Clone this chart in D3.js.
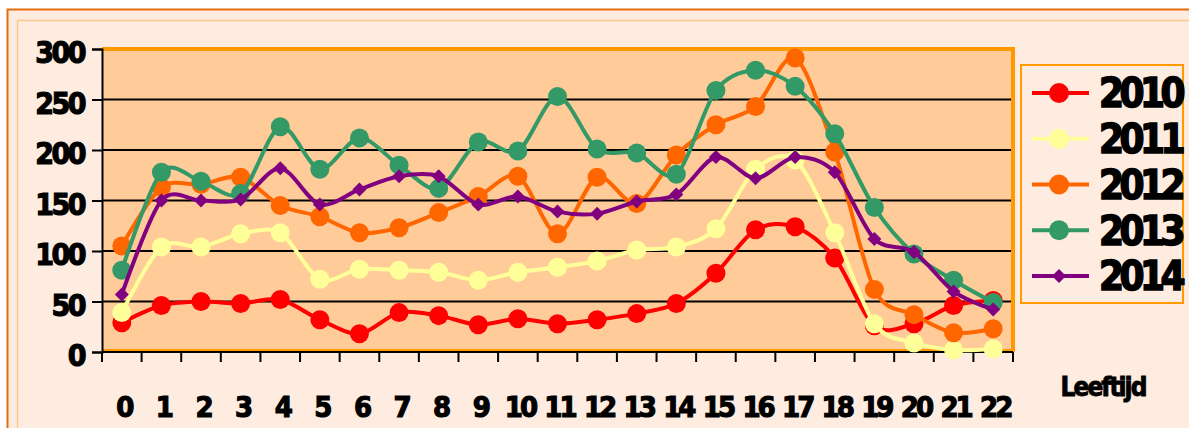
<!DOCTYPE html>
<html lang="nl">
<head>
  <meta charset="utf-8" />
  <title>Leeftijd per jaar</title>
  <script src="https://cdn.jsdelivr.net/npm/d3@7"></script>
  <style>
    body {
      margin: 0;
      background: #ffffff;
    }
    svg text {
      font-family: "DejaVu Sans Condensed", "DejaVu Sans", sans-serif;
      font-weight: bold;
      fill: #000;
      stroke: #000;
      stroke-width: 1.1px;
    }
  </style>
</head>
<body>
  <div id="chart"></div>

  <script type="text/javascript">

    const w = 1189;
    const h = 428;

    // categories (age)
    const ages = d3.range(0, 23).map(String);
    const years = ["2010", "2011", "2012", "2013", "2014"];
    const yTicks = [0, 50, 100, 150, 200, 250, 300];

    // values
    const v2010 = [29, 46, 50, 48, 52, 32, 18, 39, 36, 27, 33, 28, 32, 38, 48, 78, 121, 124, 93, 26, 28, 46, 51];
    const v2011 = [39, 104, 104, 117, 118, 72, 82, 81, 79, 71, 79, 84, 90, 101, 104, 122, 181, 190, 118, 28, 9, 2, 3];
    const v2012 = [105, 163, 166, 173, 145, 134, 118, 123, 138, 154, 174, 117, 173, 147, 195, 225, 243, 291, 198, 62, 37, 19, 23];
    const v2013 = [81, 178, 169, 157, 223, 181, 212, 185, 162, 208, 199, 253, 201, 197, 176, 259, 279, 263, 216, 143, 97, 71, 49];
    const v2014 = [57, 150, 150, 151, 182, 146, 161, 174, 174, 146, 154, 139, 137, 149, 156, 193, 172, 193, 178, 112, 99, 60, 42];

    const seriesValues = [v2010, v2011, v2012, v2013, v2014];
    const colors = ["#ff0000", "#ffff99", "#ff6600", "#339966", "#800080"];
    const markers = ["circle", "circle", "circle", "circle", "diamond"];

    const plot = {left: 102, right: 1013, top: 49, bottom: 352};

    const svg = d3.select("#chart")
                  .append("svg")
                  .attr("width", w)
                  .attr("height", h);

    // outer frame
    svg.append("rect")
       .attr("x", 7.5).attr("y", 9.5)
       .attr("width", w + 20).attr("height", h + 20)
       .attr("fill", "#fdecdf")
       .attr("stroke", "#e46c0a")
       .attr("stroke-width", 2);
    svg.append("rect")
       .attr("x", 17.5).attr("y", 20.5)
       .attr("width", w + 20).attr("height", h + 20)
       .attr("fill", "none")
       .attr("stroke", "#fcc890")
       .attr("stroke-width", 1.5);

    const x = d3.scaleBand()
                .domain(ages)
                .range([plot.left, plot.right])
                .padding(0);

    const y = d3.scaleLinear()
                .domain([0, 300])
                .range([plot.bottom, plot.top]);

    // plot area
    svg.append("rect")
       .attr("x", plot.left).attr("y", plot.top)
       .attr("width", plot.right - plot.left)
       .attr("height", plot.bottom - plot.top)
       .attr("fill", "#ffcc99");

    // grid lines
    svg.append("g")
       .selectAll("line")
       .data(yTicks.filter(d => d > 0 && d < 300))
       .enter()
       .append("line")
       .attr("x1", plot.left).attr("x2", plot.right)
       .attr("y1", d => y(d)).attr("y2", d => y(d))
       .attr("stroke", "#000")
       .attr("stroke-width", 2);

    // plot border top / right
    svg.append("path")
       .attr("d", `M${plot.left},${plot.top}H${plot.right}V${plot.bottom}`)
       .attr("fill", "none")
       .attr("stroke", "#ff9900")
       .attr("stroke-width", 4);
    svg.append("line")
       .attr("x1", plot.left).attr("x2", plot.right)
       .attr("y1", plot.bottom - 2).attr("y2", plot.bottom - 2)
       .attr("stroke", "#ff9900")
       .attr("stroke-width", 2);

    // y axis
    const yAxis = svg.append("g")
       .attr("transform", `translate(${plot.left},0)`)
       .call(d3.axisLeft(y).tickValues(yTicks).tickSize(10).tickPadding(8));
    yAxis.select(".domain").attr("stroke", "#000").attr("stroke-width", 2);
    yAxis.selectAll(".tick line").attr("stroke", "#000").attr("stroke-width", 2);
    yAxis.selectAll(".tick text")
         .attr("font-size", 30)
         .attr("letter-spacing", -2.5)
         .attr("dy", "0.45em")
         .style("font-family", null);
    yAxis.attr("font-family", null);

    // x axis: ticks between categories
    const bounds = ages.map(a => x(a)).concat([plot.right]);
    svg.append("line")
       .attr("x1", plot.left).attr("x2", plot.right)
       .attr("y1", plot.bottom).attr("y2", plot.bottom)
       .attr("stroke", "#000").attr("stroke-width", 2);
    svg.append("g")
       .selectAll("line")
       .data(bounds)
       .enter()
       .append("line")
       .attr("x1", d => d).attr("x2", d => d)
       .attr("y1", plot.bottom).attr("y2", plot.bottom + 10)
       .attr("stroke", "#000").attr("stroke-width", 2);

    svg.append("g")
       .selectAll("text")
       .data(ages)
       .enter()
       .append("text")
       .attr("x", d => x(d) + x.bandwidth() / 2 + 2)
       .attr("y", 417)
       .attr("text-anchor", "middle")
       .attr("font-size", 29)
       .attr("letter-spacing", -3)
       .text(d => d);

    svg.append("text")
       .attr("x", 1103)
       .attr("y", 396)
       .attr("text-anchor", "middle")
       .attr("font-size", 26)
       .attr("letter-spacing", -2)
       .style("stroke-width", "0.8px")
       .text("Leeftijd");

    // lines
    const line = d3.line()
                   .x((d, i) => x(ages[i]) + x.bandwidth() / 2)
                   .y(d => y(d))
                   .curve(d3.curveCardinal.tension(0.1));

    const diamond = (r) => `M0,${-r}L${r},0L0,${r}L${-r},0Z`;

    seriesValues.forEach((vals, k) => {
      const g = svg.append("g");
      g.append("path")
       .attr("d", line(vals))
       .attr("fill", "none")
       .attr("stroke", colors[k])
       .attr("stroke-width", 4)
       .attr("stroke-linejoin", "round");

      if (markers[k] === "circle") {
        g.selectAll("circle")
         .data(vals)
         .enter()
         .append("circle")
         .attr("cx", (d, i) => x(ages[i]) + x.bandwidth() / 2)
         .attr("cy", d => y(d))
         .attr("r", 9.5)
         .attr("fill", colors[k]);
      } else {
        g.selectAll("path.m")
         .data(vals)
         .enter()
         .append("path")
         .attr("class", "m")
         .attr("d", diamond(7))
         .attr("transform", (d, i) => `translate(${x(ages[i]) + x.bandwidth() / 2},${y(d)})`)
         .attr("fill", colors[k]);
      }
    });

    // legend
    const legend = svg.append("g").attr("class", "legend");
    legend.append("rect")
          .attr("x", 1021).attr("y", 65)
          .attr("width", 162).attr("height", 238)
          .attr("fill", "#fdecdf")
          .attr("stroke", "#ff9900")
          .attr("stroke-width", 2);

    const legY = d3.scalePoint()
                   .domain(years)
                   .range([93, 276]);

    const items = legend.selectAll("g.item")
          .data(years)
          .enter()
          .append("g")
          .attr("class", "item")
          .attr("transform", d => `translate(0,${legY(d)})`);

    items.append("line")
         .attr("x1", 1032).attr("x2", 1089)
         .attr("y1", 0).attr("y2", 0)
         .attr("stroke", (d, i) => colors[i])
         .attr("stroke-width", 4);

    items.filter((d, i) => markers[i] === "circle")
         .append("circle")
         .attr("cx", 1059).attr("cy", 0)
         .attr("r", 10)
         .attr("fill", (d) => colors[years.indexOf(d)]);

    items.filter((d, i) => markers[i] === "diamond")
         .append("path")
         .attr("d", diamond(7))
         .attr("transform", "translate(1059,0)")
         .attr("fill", (d) => colors[years.indexOf(d)]);

    items.append("text")
         .attr("x", 1099)
         .attr("y", 0)
         .attr("dy", "0.36em")
         .attr("font-size", 40)
         .attr("letter-spacing", -4.5)
         .style("stroke-width", "1.5px")
         .text(d => d);

  </script>
</body>
</html>
